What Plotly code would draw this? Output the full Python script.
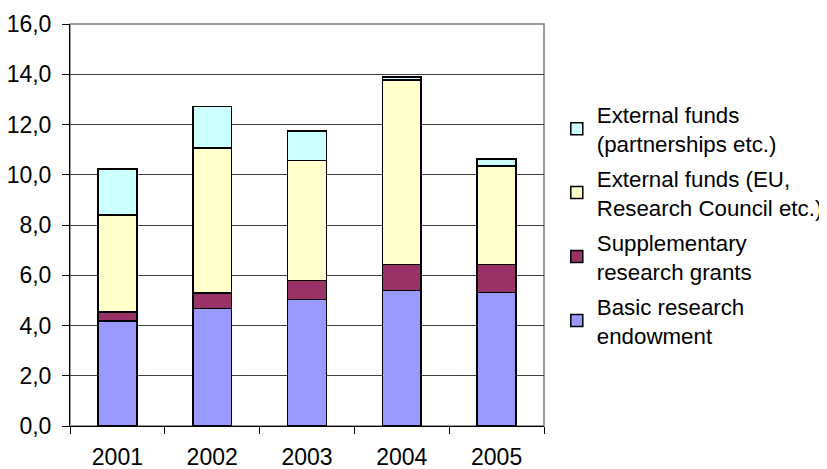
import plotly.graph_objects as go

years = ["2001", "2002", "2003", "2004", "2005"]
basic = [4.18, 4.67, 5.03, 5.39, 5.31]
supplementary = [0.36, 0.62, 0.77, 1.04, 1.12]
external_eu = [3.85, 5.77, 4.76, 7.34, 3.92]
external_partner = [1.83, 1.66, 1.19, 0.13, 0.28]

series = [
    ("Basic research<br>endowment", basic, "#9999FF"),
    ("Supplementary<br>research grants", supplementary, "#993366"),
    ("External funds (EU,<br>Research Council etc.)", external_eu, "#FFFFCC"),
    ("External funds<br>(partnerships etc.)", external_partner, "#CCFFFF"),
]

FONT = "Liberation Sans, Arial, sans-serif"
FS = 23

fig = go.Figure()
for i, (name, vals, col) in enumerate(series):
    fig.add_trace(go.Bar(
        x=years, y=vals, name=name, legendgroup=f"g{i}",
        legendrank=100 - i,
        marker=dict(color=col, line=dict(color="#000000", width=1.5)),
    ))

fig.update_layout(
    barmode="stack",
    bargap=0.59,
    width=819, height=461,
    margin=dict(l=62, r=283, t=16, b=43, autoexpand=False),
    paper_bgcolor="white", plot_bgcolor="white",
    separators=",.",
    font=dict(family=FONT, size=FS, color="#000000"),
    legend=dict(
        x=1.027, y=0.828, xanchor="left", yanchor="top",
        traceorder="grouped",
        font=dict(family=FONT, size=22.3, color="#000000"),
        itemwidth=30, tracegroupgap=3,
        bgcolor="rgba(0,0,0,0)",
    ),
    xaxis=dict(
        type="category",
        tickson="boundaries",
        ticks="outside", ticklen=7, tickcolor="#000000",
        showline=True, linecolor="#000000", linewidth=1,
        showgrid=False,
        tickfont=dict(family=FONT, size=FS),
        ticklabelstandoff=10,
    ),
    yaxis=dict(
        range=[0, 16], dtick=2, tickformat=".1f",
        ticks="outside", ticklen=7, tickcolor="#000000",
        showline=True, linecolor="#000000", linewidth=1,
        showgrid=True, gridcolor="#404040", gridwidth=1,
        tickfont=dict(family=FONT, size=FS),
        ticklabelstandoff=6,
        zeroline=False,
    ),
    shapes=[dict(type="rect", xref="paper", yref="paper", x0=0, x1=1, y0=0, y1=1,
                 line=dict(color="#808080", width=1.5), layer="below")],
)

fig.write_html("out.html")
